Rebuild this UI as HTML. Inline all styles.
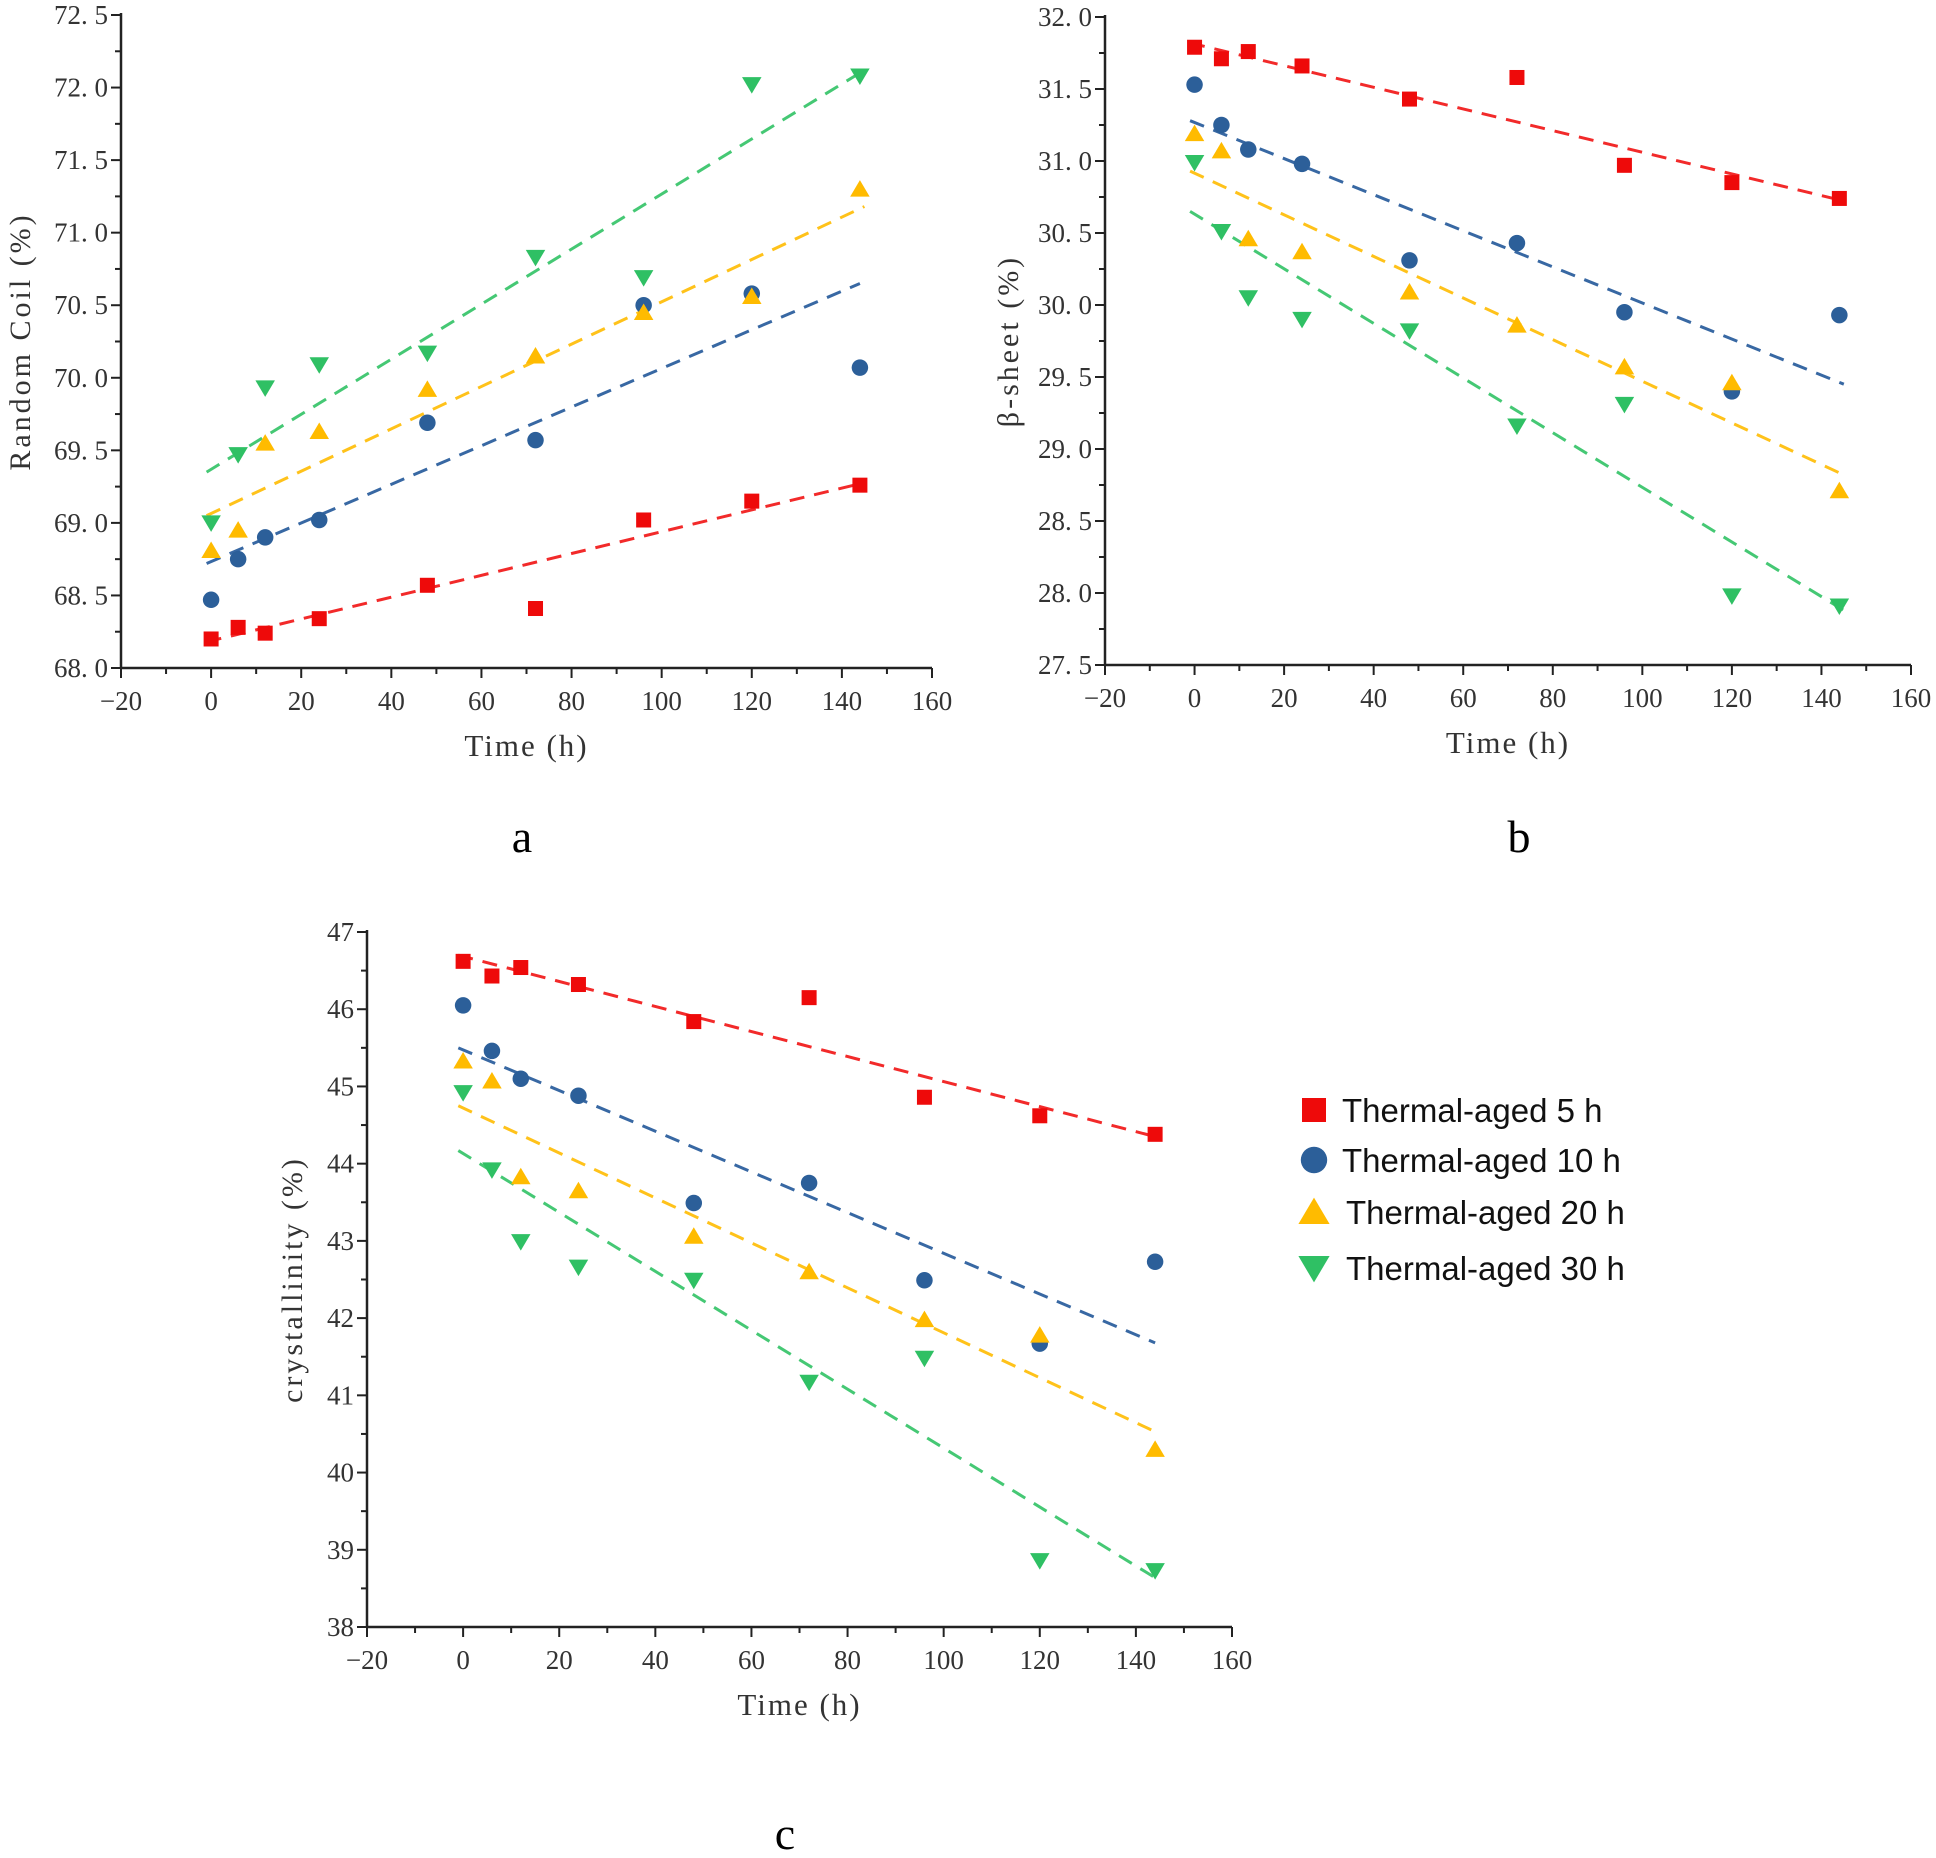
<!DOCTYPE html>
<html><head><meta charset="utf-8"><style>
html,body{margin:0;padding:0;background:#fff;}
svg{display:block;}
</style></head><body>
<svg id="s" width="1936" height="1858" xmlns="http://www.w3.org/2000/svg"></svg>
<script>
const S=document.getElementById('s');let h='';
const C={r:'#ee0a0a',b:'#2c5f99',y:'#ffbb00',g:'#2fc064'};
const L={r:'#f22a2a',b:'#3868a3',y:'#ffc21a',g:'#45c874'};
const T=[0,6,12,24,48,72,96,120,144];
function mk(t,x,y,s){
 if(t=='r')return `<rect x="${x-s*0.5}" y="${y-s*0.5}" width="${s}" height="${s}" fill="${C.r}"/>`;
 if(t=='b')return `<circle cx="${x}" cy="${y}" r="${s*0.55}" fill="${C.b}"/>`;
 if(t=='y')return `<polygon points="${x},${y-s*0.6} ${x+s*0.65},${y+s*0.5} ${x-s*0.65},${y+s*0.5}" fill="${C.y}"/>`;
 return `<polygon points="${x},${y+s*0.6} ${x+s*0.65},${y-s*0.5} ${x-s*0.65},${y-s*0.5}" fill="${C.g}"/>`;
}
function plot(o){
 const X=t=>o.l+(t+20)/180*(o.r-o.l), Y=v=>o.b-(v-o.y0)/(o.y1-o.y0)*(o.b-o.t);
 const F='font-family="Liberation Serif,serif"';
 h+=`<line x1="${o.l}" y1="${o.t-2}" x2="${o.l}" y2="${o.b}" stroke="#222" stroke-width="2.5"/>`;
 h+=`<line x1="${o.l}" y1="${o.b}" x2="${o.r}" y2="${o.b}" stroke="#222" stroke-width="2.5"/>`;
 for(let t=-20;t<=160;t+=10){const x=X(t),M=t%20==0;h+=`<line x1="${x}" y1="${o.b}" x2="${x}" y2="${o.b+(M?10:6)}" stroke="#222" stroke-width="2"/>`;
  if(M)h+=`<text x="${x}" y="${o.b+42}" font-size="27" text-anchor="middle" fill="#333" ${F}>${t==-20?'−20':t}</text>`;}
 const n=Math.round((o.y1-o.y0)/o.st);
 for(let i=0;i<=n*2;i++){const v=o.y0+i*o.st/2,y=Y(v),M=i%2==0;h+=`<line x1="${o.l-(M?10:6)}" y1="${y}" x2="${o.l}" y2="${y}" stroke="#222" stroke-width="2"/>`;
  if(M)h+=`<text x="${o.l-13}" y="${y+9}" font-size="27" text-anchor="end" fill="#333" ${F}>${o.fmt(v)}</text>`;}
 h+=`<text x="${(o.l+o.r)/2}" y="${o.b+88}" font-size="31" text-anchor="middle" fill="#333" font-family="Liberation Serif,serif" letter-spacing="2">Time (h)</text>`;
 h+=`<text transform="translate(${o.yl},${(o.t+o.b)/2}) rotate(-90)" font-size="30" text-anchor="middle" fill="#333" font-family="Liberation Serif,serif" letter-spacing="3">${o.yt}</text>`;
 for(const k of ['r','b','y','g']){const ln=o.ln[k];
  h+=`<line x1="${X(ln[0])}" y1="${Y(ln[1])}" x2="${X(ln[2])}" y2="${Y(ln[3])}" stroke="${L[k]}" stroke-width="3" stroke-dasharray="15,10"/>`;}
 for(const k of ['r','b','y','g'])o.d[k].forEach((v,i)=>h+=mk(k,X(T[i]),Y(v),15));
}
plot({l:121,r:932,t:15,b:668,y0:68,y1:72.5,st:0.5,fmt:v=>v.toFixed(1).replace('.','. '),yl:30,yt:'Random Coil (%)',
 d:{r:[68.2,68.28,68.24,68.34,68.57,68.41,69.02,69.15,69.26],b:[68.47,68.75,68.9,69.02,69.69,69.57,70.5,70.58,70.07],
 y:[68.81,68.95,69.55,69.63,69.92,70.15,70.45,70.56,71.3],g:[69.0,69.47,69.93,70.09,70.17,70.83,70.69,72.02,72.08]},
 ln:{r:[-1,68.18,144,69.27],b:[-1,68.72,144,70.65],y:[-1,69.05,145,71.18],g:[-1,69.35,145,72.12]}});
plot({l:1105,r:1911,t:17,b:665,y0:27.5,y1:32,st:0.5,fmt:v=>v.toFixed(1).replace('.','. '),yl:1018,yt:'β-sheet (%)',
 d:{r:[31.79,31.71,31.76,31.66,31.43,31.58,30.97,30.85,30.74],b:[31.53,31.25,31.08,30.98,30.31,30.43,29.95,29.40,29.93],
 y:[31.19,31.07,30.46,30.37,30.09,29.86,29.57,29.46,28.71],g:[30.99,30.51,30.05,29.9,29.82,29.16,29.31,27.98,27.91]},
 ln:{r:[-1,31.82,144,30.73],b:[-1,31.28,145,29.45],y:[-1,30.93,145,28.82],g:[-1,30.65,145,27.88]}});
plot({l:367,r:1232,t:932,b:1627,y0:38,y1:47,st:1,fmt:v=>v.toFixed(0),yl:302,yt:'crystallinity (%)',
 d:{r:[46.62,46.43,46.54,46.32,45.84,46.15,44.86,44.62,44.38],b:[46.05,45.46,45.1,44.88,43.49,43.75,42.49,41.67,42.73],
 y:[45.33,45.07,43.83,43.65,43.06,42.6,41.98,41.78,40.3],g:[44.92,43.92,42.99,42.66,42.49,41.17,41.48,38.86,38.73]},
 ln:{r:[-1,46.7,144,44.35],b:[-1,45.5,144,41.68],y:[-1,44.75,145,40.5],g:[-1,44.17,145,38.6]}});
const lg=[['r',1110,'Thermal-aged 5 h'],['b',1160,'Thermal-aged 10 h'],['y',1212,'Thermal-aged 20 h'],['g',1268,'Thermal-aged 30 h']];
lg.forEach(([k,y,t])=>{h+=mk(k,1314,y,24);h+=`<text x="${k=='r'||k=='b'?1342:1346}" y="${y+12}" font-size="33" fill="#111" font-family="Liberation Sans,sans-serif">${t}</text>`;});
h+=`<text x="522" y="852" font-size="46" text-anchor="middle" font-family="Liberation Serif,serif">a</text>`;
h+=`<text x="1519" y="852" font-size="46" text-anchor="middle" font-family="Liberation Serif,serif">b</text>`;
h+=`<text x="785" y="1849" font-size="46" text-anchor="middle" font-family="Liberation Serif,serif">c</text>`;
S.innerHTML=h;
</script>
</body></html>
